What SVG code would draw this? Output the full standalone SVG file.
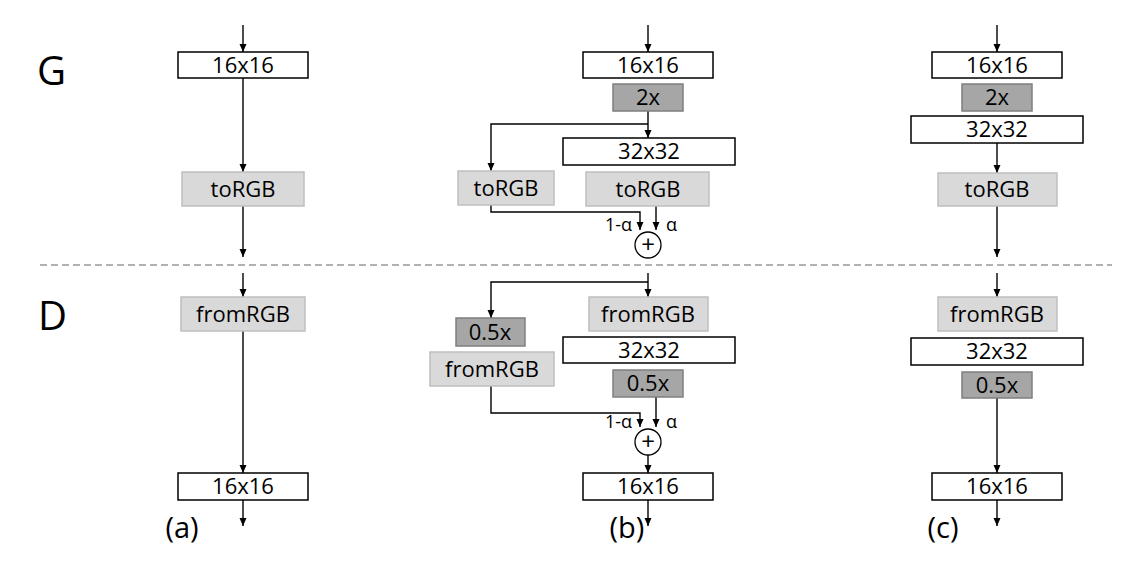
<svg xmlns="http://www.w3.org/2000/svg" width="1137" height="567" viewBox="0 0 1137 567">
<defs>
<marker id="ah" markerWidth="8" markerHeight="8" refX="8" refY="3.5" orient="auto" markerUnits="userSpaceOnUse">
<path d="M0,0 L8,3.5 L0,7 z" fill="#000"/>
</marker>
<style>
.w{fill:#fff;stroke:#000;stroke-width:1.5}
.l{fill:#d9d9d9;stroke:#bfbfbf;stroke-width:1.5}
.d{fill:#a6a6a6;stroke:#7f7f7f;stroke-width:1.5}
.t{font-family:"Open Sans","Liberation Sans",sans-serif;font-size:22px;fill:#000;text-anchor:middle}
.s{font-family:"Open Sans","Liberation Sans",sans-serif;font-size:18px;fill:#000}
.big{font-family:"Open Sans","Liberation Sans",sans-serif;font-size:40px;fill:#000}
.cap{font-family:"Open Sans","Liberation Sans",sans-serif;font-size:29px;fill:#000;text-anchor:middle}
.c{fill:none;stroke:#000;stroke-width:1.3}
.p{font-family:"Open Sans","Liberation Sans",sans-serif;font-size:24px;fill:#000;text-anchor:middle}
.a{fill:none;stroke:#000;stroke-width:1.4;marker-end:url(#ah)}
</style>
</defs>
<rect width="1137" height="567" fill="#fff"/>
<line x1="40" y1="265" x2="1112" y2="265" stroke="#999" stroke-width="1.5" stroke-dasharray="7 4"/>
<text class="big" x="37" y="85">G</text>
<text class="big" x="38" y="330">D</text>

<g id="connectors">
<path class="a" d="M243,25 V52"/>
<path class="a" d="M243,78 V172"/>
<path class="a" d="M243,206 V257"/>
<path class="a" d="M243,273 V297"/>
<path class="a" d="M243,331 V473"/>
<path class="a" d="M243,500 V526"/>
<path class="a" d="M648,25 V52"/>
<path class="a" d="M648,111 V138"/>
<path class="a" d="M648,124 H491 V171"/>
<path class="a" d="M491,205 V212 H640 V230"/>
<path class="a" d="M656,206 V230"/>
<path class="a" d="M648,273 V297"/>
<path class="a" d="M648,282 H491 V318"/>
<path class="a" d="M491,386 V413 H640 V427"/>
<path class="a" d="M656,397 V427"/>
<path class="a" d="M648,455 V473"/>
<path class="a" d="M648,500 V526"/>
<path class="a" d="M997,25 V52"/>
<path class="a" d="M997,143 V173"/>
<path class="a" d="M997,206 V257"/>
<path class="a" d="M997,273 V297"/>
<path class="a" d="M997,398 V473"/>
<path class="a" d="M997,500 V526"/>
</g>

<g id="a-g16"><rect class="w" x="178" y="52" width="130" height="26"/><text class="t" x="243" y="73">16x16</text></g>
<g id="a-torgb"><rect class="l" x="182" y="172" width="122" height="34"/><text class="t" x="243" y="197">toRGB</text></g>
<g id="a-fromrgb"><rect class="l" x="181" y="297" width="124" height="34"/><text class="t" x="243" y="322">fromRGB</text></g>
<g id="a-d16"><rect class="w" x="178" y="473" width="130" height="27"/><text class="t" x="243" y="494">16x16</text></g>
<text class="cap" x="182" y="538">(a)</text>

<g id="b-g16"><rect class="w" x="583" y="52" width="130" height="26"/><text class="t" x="648" y="73">16x16</text></g>
<g id="b-g2x"><rect class="d" x="613" y="84" width="70" height="27"/><text class="t" x="648" y="105">2x</text></g>
<g id="b-g32"><rect class="w" x="563" y="138" width="172" height="27"/><text class="t" x="649" y="159">32x32</text></g>
<g id="b-torgb1"><rect class="l" x="458" y="171" width="96" height="34"/><text class="t" x="506" y="196">toRGB</text></g>
<g id="b-torgb2"><rect class="l" x="586" y="172" width="123" height="34"/><text class="t" x="648" y="197">toRGB</text></g>
<g id="b-gsum"><circle class="c" cx="648" cy="245" r="13"/><text class="p" x="648" y="253">+</text></g>
<text class="s" x="632" y="231" text-anchor="end">1-α</text>
<text class="s" x="666" y="231">α</text>

<g id="b-fromrgb2"><rect class="l" x="589" y="297" width="119" height="34"/><text class="t" x="648" y="322">fromRGB</text></g>
<g id="b-d32"><rect class="w" x="563" y="337" width="172" height="26"/><text class="t" x="649" y="358">32x32</text></g>
<g id="b-d05a"><rect class="d" x="613" y="370" width="70" height="27"/><text class="t" x="648" y="391">0.5x</text></g>
<g id="b-d05b"><rect class="d" x="456" y="318" width="69" height="28"/><text class="t" x="490" y="340">0.5x</text></g>
<g id="b-fromrgb1"><rect class="l" x="430" y="352" width="124" height="34"/><text class="t" x="492" y="377">fromRGB</text></g>
<g id="b-dsum"><circle class="c" cx="648" cy="442" r="13"/><text class="p" x="648" y="450">+</text></g>
<text class="s" x="632" y="428" text-anchor="end">1-α</text>
<text class="s" x="666" y="428">α</text>
<g id="b-d16"><rect class="w" x="583" y="473" width="130" height="27"/><text class="t" x="648" y="494">16x16</text></g>
<text class="cap" x="627" y="538">(b)</text>

<g id="c-g16"><rect class="w" x="932" y="52" width="130" height="26"/><text class="t" x="997" y="73">16x16</text></g>
<g id="c-g2x"><rect class="d" x="962" y="84" width="70" height="27"/><text class="t" x="997" y="105">2x</text></g>
<g id="c-g32"><rect class="w" x="911" y="116" width="172" height="27"/><text class="t" x="997" y="137">32x32</text></g>
<g id="c-torgb"><rect class="l" x="938" y="173" width="119" height="33"/><text class="t" x="997" y="197">toRGB</text></g>
<g id="c-fromrgb"><rect class="l" x="938" y="297" width="119" height="34"/><text class="t" x="997" y="322">fromRGB</text></g>
<g id="c-d32"><rect class="w" x="911" y="338" width="172" height="27"/><text class="t" x="997" y="359">32x32</text></g>
<g id="c-d05"><rect class="d" x="962" y="372" width="70" height="26"/><text class="t" x="997" y="393">0.5x</text></g>
<g id="c-d16"><rect class="w" x="932" y="473" width="130" height="27"/><text class="t" x="997" y="494">16x16</text></g>
<text class="cap" x="943" y="538">(c)</text>
</svg>
